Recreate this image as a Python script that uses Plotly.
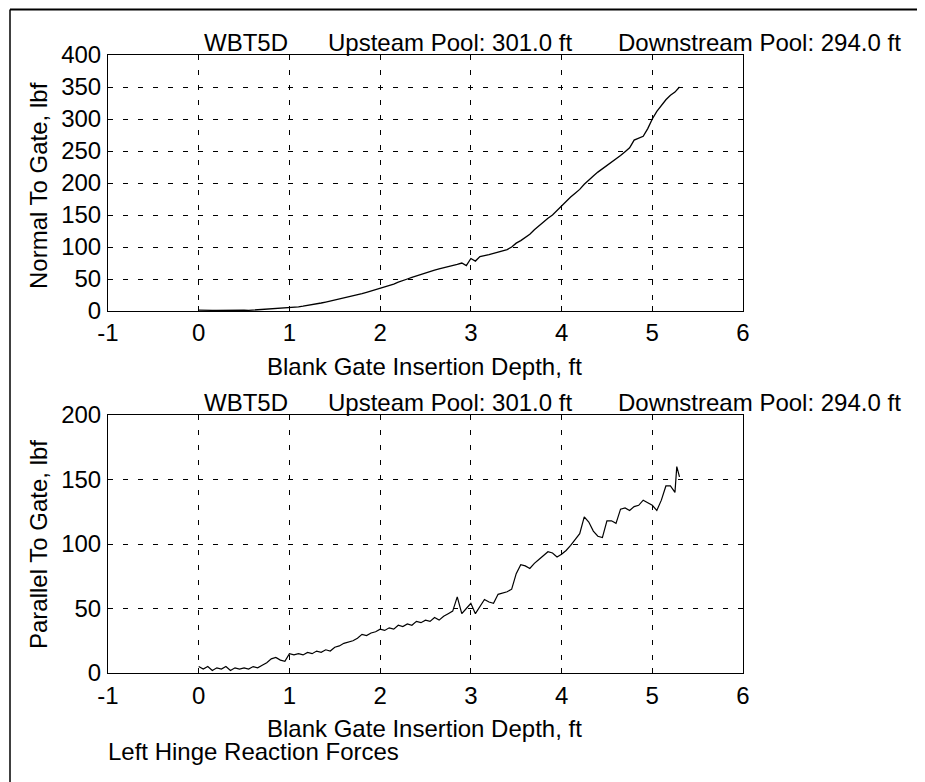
import plotly.graph_objects as go

# ---------------- data ----------------
depth_top = [0.00, 0.05, 0.10, 0.15, 0.20, 0.25, 0.30, 0.35, 0.40, 0.45,
             0.50, 0.55, 0.60, 0.65, 0.70, 0.75, 0.80, 0.85, 0.90, 0.95,
             1.00, 1.05, 1.10, 1.15, 1.20, 1.25, 1.30, 1.35, 1.40, 1.45,
             1.50, 1.55, 1.60, 1.65, 1.70, 1.75, 1.80, 1.85, 1.90, 1.95,
             2.00, 2.05, 2.10, 2.15, 2.20, 2.25, 2.30, 2.35, 2.40, 2.45,
             2.50, 2.55, 2.60, 2.65, 2.70, 2.75, 2.80, 2.85, 2.90, 2.95,
             3.00, 3.05, 3.10, 3.15, 3.20, 3.25, 3.30, 3.35, 3.40, 3.45,
             3.50, 3.55, 3.60, 3.65, 3.70, 3.75, 3.80, 3.85, 3.90, 3.95,
             4.00, 4.05, 4.10, 4.15, 4.20, 4.25, 4.30, 4.35, 4.40, 4.45,
             4.50, 4.55, 4.60, 4.65, 4.70, 4.75, 4.80, 4.85, 4.90, 4.95,
             5.00, 5.05, 5.10, 5.15, 5.20, 5.25, 5.30]
normal_force = [1.5, 1.0, 0.5, 1.0, 0.8, 1.0, 0.5, 1.2, 0.8, 1.0,
                1.2, 1.0, 1.5, 1.3, 1.8, 2.0, 3.0, 3.2, 3.8, 4.5,
                5.0, 5.5, 6.5, 7.5, 8.5, 10, 11, 12.5, 14, 15.5,
                17, 18.5, 20, 21.5, 23, 25, 27, 29, 31, 33,
                35, 37.5, 40, 42, 45, 48, 50, 52.5, 55, 57,
                60, 62, 64, 66, 67.5, 69, 71, 73, 75, 71,
                82, 78, 85, 86, 88, 90, 92, 94, 96, 100,
                106, 110, 115, 120, 127, 133, 140, 145, 150, 157,
                165, 171, 178, 184, 190, 198, 205, 211, 217, 222,
                228, 232, 237, 243, 249, 255, 267, 270, 273, 285,
                300, 312, 322, 330, 337, 342, 350]

depth_bot = [0.00, 0.05, 0.10, 0.15, 0.20, 0.25, 0.30, 0.35, 0.40, 0.45,
             0.50, 0.55, 0.60, 0.65, 0.70, 0.75, 0.80, 0.85, 0.90, 0.95,
             1.00, 1.05, 1.10, 1.15, 1.20, 1.25, 1.30, 1.35, 1.40, 1.45,
             1.50, 1.55, 1.60, 1.65, 1.70, 1.75, 1.80, 1.85, 1.90, 1.95,
             2.00, 2.05, 2.10, 2.15, 2.20, 2.25, 2.30, 2.35, 2.40, 2.45,
             2.50, 2.55, 2.60, 2.65, 2.70, 2.75, 2.80, 2.85, 2.90, 2.95,
             3.00, 3.05, 3.10, 3.15, 3.20, 3.25, 3.30, 3.35, 3.40, 3.45,
             3.50, 3.55, 3.60, 3.65, 3.70, 3.75, 3.80, 3.85, 3.90, 3.95,
             4.00, 4.05, 4.10, 4.15, 4.20, 4.25, 4.30, 4.35, 4.40, 4.45,
             4.50, 4.55, 4.60, 4.65, 4.70, 4.75, 4.80, 4.85, 4.90, 4.95,
             5.00, 5.05, 5.10, 5.15, 5.20, 5.25, 5.27, 5.30]
parallel_force = [5, 3, 5, 2, 4, 3, 5, 2, 4, 3,
                  4, 3, 5, 4, 6, 8, 11, 12, 10, 9,
                  15, 14, 15, 14, 16, 15, 17, 16, 18, 17,
                  20, 21, 23, 24, 25, 27, 30, 29, 31, 32,
                  34, 33, 35, 34, 37, 36, 38, 37, 40, 39,
                  41, 40, 43, 41, 44, 46, 48, 59, 46, 50,
                  54, 46, 52, 57, 55, 54, 61, 62, 63, 65,
                  77, 84, 83, 81, 85, 88, 91, 94, 93, 90,
                  92, 95, 99, 104, 108, 121, 117, 110, 106, 105,
                  118, 118, 116, 127, 128, 126, 129, 130, 134, 132,
                  130, 126, 134, 145, 145, 140, 160, 152]

x_ticks = [-1, 0, 1, 2, 3, 4, 5, 6]
x_tick_text = ["-1", "0", "1", "2", "3", "4", "5", "6"]
y_ticks_top = [0, 50, 100, 150, 200, 250, 300, 350, 400]
y_ticks_bot = [0, 50, 100, 150, 200]

title_run = "WBT5D"
title_up = "Upsteam Pool: 301.0 ft"
title_down = "Downstream Pool: 294.0 ft"
x_label = "Blank Gate Insertion Depth, ft"
y_label_top = "Normal To Gate, lbf"
y_label_bot = "Parallel To Gate, lbf"
footer = "Left Hinge Reaction Forces"

# ---------------- figure ----------------
OFF = 8                       # page body margin of the browser
W, H = 925 - OFF, 782 - OFF   # figure fills the rest of the window
FONT = "Liberation Sans, Arial, Helvetica, sans-serif"
FS = 24


def px_x(p):
    return (p - OFF) / W


def px_y(p):
    return 1 - (p - OFF) / H


fig = go.Figure()
fig.add_trace(go.Scatter(x=depth_top, y=normal_force, mode="lines",
                         line=dict(color="black", width=1.3),
                         xaxis="x", yaxis="y", showlegend=False))
fig.add_trace(go.Scatter(x=depth_bot, y=parallel_force, mode="lines",
                         line=dict(color="black", width=1.2),
                         xaxis="x2", yaxis="y2", showlegend=False))

axis_common = dict(showline=True, linecolor="black", linewidth=1,
                   mirror="ticks", ticks="inside", ticklen=5,
                   tickcolor="black", showgrid=True, gridcolor="black",
                   gridwidth=1, griddash="5px,10px", zeroline=False,
                   automargin=False,
                   tickfont=dict(family=FONT, size=FS, color="black"))

x_dom = [px_x(108), px_x(743)]
fig.update_layout(
    template="none",
    width=W, height=H, autosize=False,
    margin=dict(l=0, r=0, t=0, b=0, pad=0),
    paper_bgcolor="white", plot_bgcolor="white",
    font=dict(family=FONT, size=FS, color="black"),
    xaxis=dict(domain=x_dom, range=[-1, 6], tickvals=x_ticks,
               ticktext=x_tick_text,
               anchor="y", ticklabelstandoff=0, **axis_common),
    yaxis=dict(domain=[px_y(311), px_y(55)], range=[0, 400],
               tickvals=y_ticks_top, anchor="x", ticklabelstandoff=1,
               **axis_common),
    xaxis2=dict(domain=x_dom, range=[-1, 6], tickvals=x_ticks,
                ticktext=x_tick_text,
                anchor="y2", ticklabelstandoff=1, **axis_common),
    yaxis2=dict(domain=[px_y(673), px_y(415)], range=[0, 200],
                tickvals=y_ticks_bot, anchor="x2", ticklabelstandoff=1,
                **axis_common),
)

ann = []


def text(t, x, y, xanchor="left", angle=0):
    ann.append(dict(text=t, x=px_x(x), y=px_y(y), xref="paper", yref="paper",
                    xanchor=xanchor, yanchor="middle", showarrow=False,
                    textangle=angle,
                    font=dict(family=FONT, size=FS, color="black")))


for ty in (42, 402):
    text(title_run, 202, ty)
    text(title_up, 326, ty)
    text(title_down, 616, ty)

text(x_label, 424, 366, xanchor="center")
text(x_label, 424, 728, xanchor="center")
text(y_label_top, 38, 186, xanchor="center", angle=-90)
text(y_label_bot, 38, 545, xanchor="center", angle=-90)
text(footer, 106, 751)
fig.update_layout(annotations=ann)

# page frame lines (top and left edges)
fig.add_shape(type="line", xref="paper", yref="paper",
              x0=px_x(10), x1=1, y0=px_y(9.5), y1=px_y(9.5),
              line=dict(color="black", width=2))
fig.add_shape(type="line", xref="paper", yref="paper",
              x0=px_x(10), x1=px_x(10), y0=px_y(9.5), y1=0,
              line=dict(color="black", width=1.5))

fig.write_html("out.html")
